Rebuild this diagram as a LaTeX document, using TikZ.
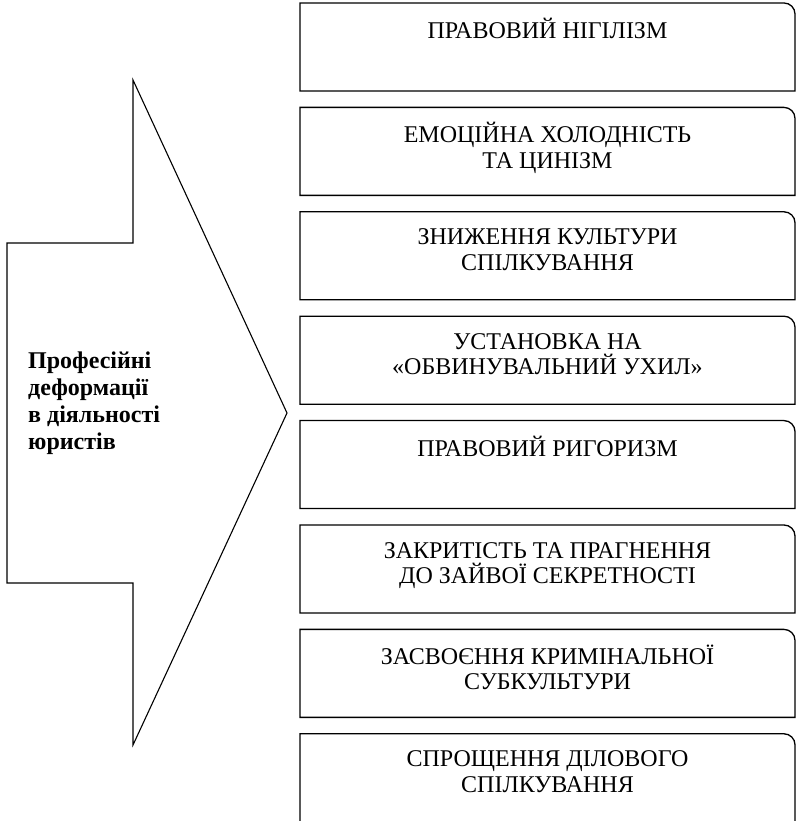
\documentclass[tikz,border=0pt]{standalone}
\usepackage{fontspec}
\setmainfont{Liberation Serif}
\newcommand{\tightlines}{\setlength{\lineskiplimit}{-20pt}}
\begin{document}
\begin{tikzpicture}[x=1pt,y=1pt]
  % Define colors
  \colorlet{linecolor}{black}
  \tikzset{
    outline/.style={draw=linecolor, line width=1.3pt, line join=miter},
    itemtext/.style={anchor=north, align=center, inner sep=0pt,
      font=\fontsize{24}{25.5}\selectfont\tightlines},
    titletext/.style={anchor=north west, align=left, inner sep=0pt,
      font=\bfseries\fontsize{24}{27}\selectfont\tightlines}
  }
  \useasboundingbox (0,0) rectangle (796,821);

  % Big arrow
  \draw[outline, line width=1.1pt] (133,741) -- (287,408) -- (133,76) -- (133,238)
    -- (7,238) -- (7,578) -- (133,578) -- cycle;
  \node[titletext] (title) at (28,471.9) {\strut Професійні\\деформації\\в діяльності\\юристів};

  % Boxes with the forms of deformation
  \foreach \i/\label in {0/{ПРАВОВИЙ НІГІЛІЗМ},
                         1/{ЕМОЦІЙНА ХОЛОДНІСТЬ\\ТА ЦИНІЗМ},
                         2/{ЗНИЖЕННЯ КУЛЬТУРИ\\СПІЛКУВАННЯ},
                         3/{УСТАНОВКА НА\\«ОБВИНУВАЛЬНИЙ УХИЛ»},
                         4/{ПРАВОВИЙ РИГОРИЗМ},
                         5/{ЗАКРИТІСТЬ ТА ПРАГНЕННЯ\\ДО ЗАЙВОЇ СЕКРЕТНОСТІ},
                         6/{ЗАСВОЄННЯ КРИМІНАЛЬНОЇ\\СУБКУЛЬТУРИ},
                         7/{СПРОЩЕННЯ ДІЛОВОГО\\СПІЛКУВАННЯ}} {
    \pgfmathsetmacro{\top}{818-104.4*\i}
    \draw[outline] (300,\top-88) -- (300,\top) -- (784,\top)
      arc[start angle=90, end angle=0, radius=11] -- (795,\top-88) -- cycle;
    \node[itemtext] (item\i) at (547.5,\top-15) {\strut\label};
  }
\end{tikzpicture}
\end{document}
